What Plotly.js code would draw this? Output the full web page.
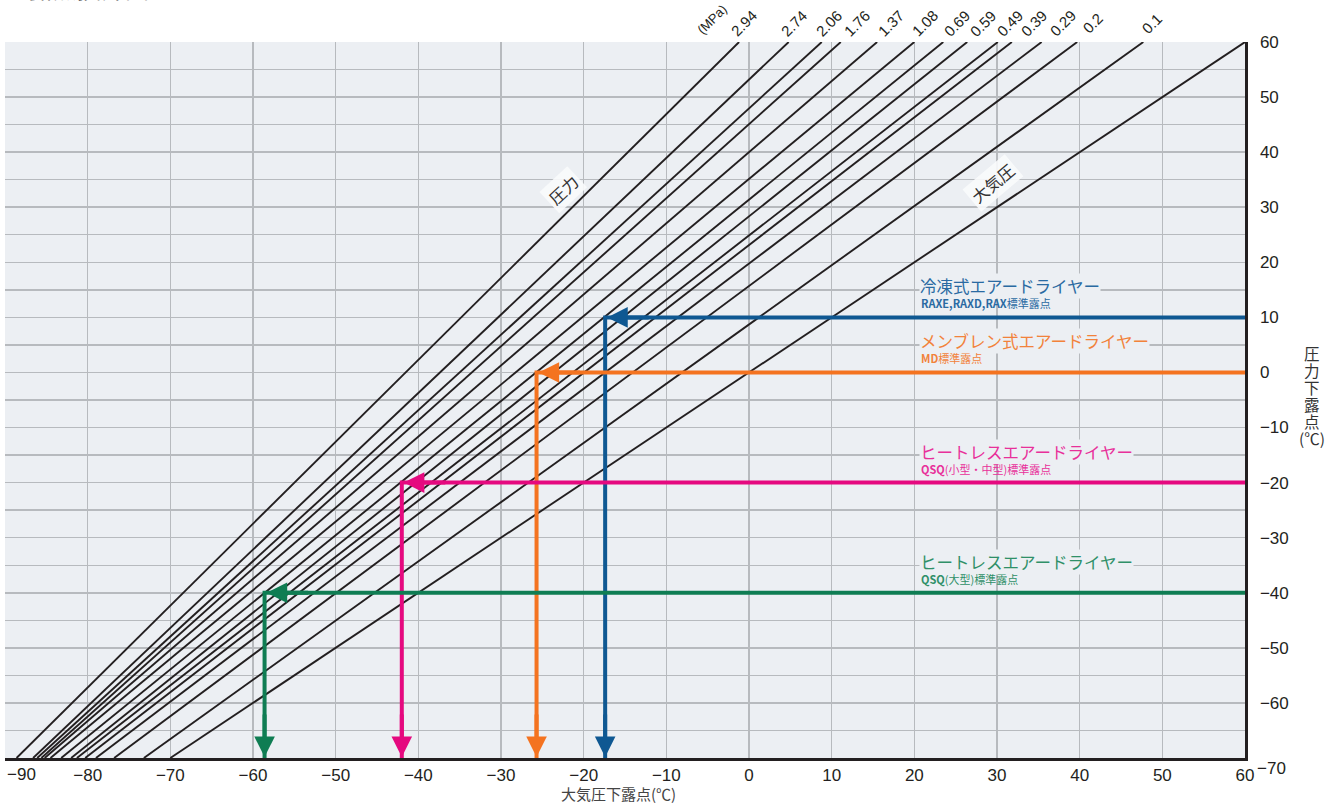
<!DOCTYPE html>
<html>
<head>
<meta charset="utf-8">
<script src="https://cdn.plot.ly/plotly-3.0.1.min.js"></script>
<style>
html,body{margin:0;padding:0;background:#ffffff;}
#chart{width:1339px;height:803px;}
</style>
</head>
<body>
<div id="chart"></div>
<script>
// ---- data ----
const pressureLabels = ['2.94','2.74','2.06','1.76','1.37','1.08','0.69','0.59','0.49','0.39','0.29','0.2','0.1'];
// atmospheric dew point where each pressure line meets pressure dew point 60 / -70
const atmDewAtTop    = [-1.2, 4.8, 8.8, 11.1, 15.5, 20.0, 23.5, 26.4, 30.1, 31.8, 35.4, 39.7, 47.7];
const atmDewAtBottom = [-88.6, -86.6, -86.1, -85.6, -85.2, -84.5, -83.2, -82.0, -81.3, -80.3, -79.0, -76.8, -73.2];
// where each pressure label sits along the top edge (atmospheric dew point)
const pressureLabelX = [-0.7, 5.4, 9.6, 13.0, 17.1, 21.2, 25.1, 28.3, 31.5, 34.4, 37.9, 41.5, 48.7];
const pressureUnit = '(MPa)';
const pressureUnitX = -4.5;
const pressureDewTop = 60;
const pressureDewBottom = -70;
// atmospheric-pressure line
const atmLineX = [-70, 60];
const atmLineY = [-70, 60];

const dryerNames  = ['冷凍式エアードライヤー','メンブレン式エアードライヤー','ヒートレスエアードライヤー','ヒートレスエアードライヤー'];
const dryerModels = ['RAXE,RAXD,RAX','MD','QSQ','QSQ'];
const dryerNotes  = ['標準露点','標準露点','(小型・中型)標準露点','(大型)標準露点'];
const dryerPressureDew = [10, 0, -20, -40];
const dryerAtmDew      = [-17.4, -25.7, -42.0, -58.6];
const dryerLineColors  = ['#0f5892','#f47320','#e5097f','#0f7d53'];
const dryerTextColors  = ['#2a6aa2','#f2823a','#e8309a','#2f9068'];

const xTickVals = [-90,-80,-70,-60,-50,-40,-30,-20,-10,0,10,20,30,40,50,60];
const yTickVals = [-70,-60,-50,-40,-30,-20,-10,0,10,20,30,40,50,60];

const chartTitle = '露点換算図';
const xTitle = '大気圧下露点(℃)';
const yTitleChars = ['圧','力','下','露','点','(℃)'];
const familyLabels = ['圧力','大気圧'];
const familyLabelX = [-22.5, 29.5];
const familyLabelY = [33.1, 34.4];

// ---- styles ----
const PLOT_BG = '#eceff3';
const GRID = '#b7babe';
const INK = '#231f20';
const LATIN = 'Liberation Sans, Arial, sans-serif';
const CJK = 'Noto Sans CJK JP, Noto Sans, sans-serif';
const fmt = v => (v < 0 ? '\u2212' + Math.abs(v) : String(v));

const traces = [];
pressureLabels.forEach((p, i) => {
  traces.push({
    type: 'scatter', mode: 'lines', hoverinfo: 'skip',
    x: [atmDewAtBottom[i], atmDewAtTop[i]],
    y: [pressureDewBottom, pressureDewTop],
    line: {color: INK, width: 1.9}
  });
});
traces.push({
  type: 'scatter', mode: 'lines', hoverinfo: 'skip',
  x: atmLineX, y: atmLineY, line: {color: INK, width: 1.9}
});
dryerNames.forEach((n, i) => {
  traces.push({
    type: 'scatter', mode: 'lines', hoverinfo: 'skip',
    x: [60, dryerAtmDew[i], dryerAtmDew[i]],
    y: [dryerPressureDew[i], dryerPressureDew[i], pressureDewBottom],
    line: {color: dryerLineColors[i], width: 4}
  });
});

const ann = [];
// pressure labels at top
pressureLabels.forEach((p, i) => {
  ann.push({
    x: pressureLabelX[i], y: pressureDewTop, xref: 'x', yref: 'y',
    text: p, showarrow: false, textangle: -45,
    xanchor: 'center', yanchor: 'middle', yshift: 19,
    font: {family: LATIN, size: 15, color: INK}
  });
});
ann.push({
  x: pressureUnitX, y: pressureDewTop, xref: 'x', yref: 'y',
  text: pressureUnit, showarrow: false, textangle: -45,
  xanchor: 'center', yanchor: 'middle', yshift: 23,
  font: {family: LATIN, size: 13, color: INK}
});
// line-family labels
familyLabels.forEach((t, i) => {
  ann.push({
    x: familyLabelX[i], y: familyLabelY[i], xref: 'x', yref: 'y', text: t, showarrow: false,
    textangle: i === 0 ? -43 : -40, font: {family: CJK, size: 16.5, color: '#333'},
    bgcolor: 'rgba(250,251,252,0.9)', borderpad: 2
  });
});
// dryer labels and arrows
dryerNames.forEach((n, i) => {
  ann.push({
    x: 20.6, y: dryerPressureDew[i], xref: 'x', yref: 'y', text: n, showarrow: false,
    xanchor: 'left', yanchor: 'middle', yshift: 31,
    font: {family: CJK, size: 16.5, color: dryerTextColors[i]},
    bgcolor: PLOT_BG, borderpad: 0
  });
  ann.push({
    x: 20.6, y: dryerPressureDew[i], xref: 'x', yref: 'y',
    text: '<b>' + dryerModels[i] + '</b>' + dryerNotes[i], showarrow: false,
    xanchor: 'left', yanchor: 'middle', yshift: 14,
    font: {family: CJK, size: 11, color: dryerTextColors[i]}
  });
  ann.push({
    x: dryerAtmDew[i], y: dryerPressureDew[i], xref: 'x', yref: 'y', text: '',
    showarrow: true, ax: 45, ay: 0, arrowhead: 2, arrowsize: 1.03, arrowwidth: 4,
    arrowcolor: dryerLineColors[i], standoff: 2
  });
  ann.push({
    x: dryerAtmDew[i], y: pressureDewBottom, xref: 'x', yref: 'y', text: '',
    showarrow: true, ax: 0, ay: -45, arrowhead: 2, arrowsize: 1.03, arrowwidth: 4,
    arrowcolor: dryerLineColors[i], standoff: 1
  });
});
// first x tick label (kept inside the page) and last y tick label (nudged down)
ann.push({
  x: xTickVals[0], y: 0, xref: 'x', yref: 'paper', text: fmt(xTickVals[0]), showarrow: false,
  xanchor: 'left', yanchor: 'top', yshift: -5,
  font: {family: LATIN, size: 17, color: INK}
});
ann.push({
  x: 1, y: yTickVals[0], xref: 'paper', yref: 'y', text: fmt(yTickVals[0]), showarrow: false,
  xanchor: 'left', yanchor: 'middle', xshift: 10, yshift: -10,
  font: {family: LATIN, size: 17, color: INK}
});
// axis titles
ann.push({
  x: 0.495, y: -0.05, xref: 'paper', yref: 'paper', text: xTitle, showarrow: false,
  xanchor: 'center', yanchor: 'middle', font: {family: CJK, size: 15, color: '#444'}
});
yTitleChars.forEach((c, i) => {
  ann.push({
    x: 1, y: 0, xref: 'paper', yref: 'y', text: c, showarrow: false,
    xanchor: 'center', yanchor: 'middle', xshift: 67, yshift: 19 - i * 16.9,
    font: {family: CJK, size: 15.5, color: '#333'}
  });
});
// cropped heading at top-left
ann.push({
  x: 0, y: 1, xref: 'paper', yref: 'paper', xanchor: 'left', yanchor: 'bottom',
  yshift: 35, xshift: -2,
  text: '<span style="color:#1e7ccc">■</span>' + chartTitle, showarrow: false,
  font: {family: CJK, size: 24, color: '#333'}
});

const layout = {
  width: 1339, height: 803,
  margin: {l: 5, r: 94, t: 42, b: 45, pad: 0},
  paper_bgcolor: '#ffffff', plot_bgcolor: PLOT_BG,
  showlegend: false,
  xaxis: {
    range: [-90, 60], tickmode: 'array',
    tickvals: xTickVals.slice(1), ticktext: xTickVals.slice(1).map(fmt),
    showgrid: true, gridcolor: GRID, gridwidth: 1.5, zeroline: false,
    showline: true, linecolor: INK, linewidth: 2.5, ticks: '',
    tickfont: {family: LATIN, size: 17, color: INK},
    automargin: false, fixedrange: true
  },
  yaxis: {
    range: [-70, 60], side: 'right', tickmode: 'array',
    tickvals: yTickVals.slice(1), ticktext: yTickVals.slice(1).map(fmt),
    showgrid: true, gridcolor: GRID, gridwidth: 1.5, zeroline: false,
    minor: {tickmode: 'linear', tick0: 0, dtick: 5, showgrid: true, gridcolor: GRID, gridwidth: 1.3},
    showline: true, linecolor: INK, linewidth: 2.5, ticks: '', ticklabelstandoff: 9,
    tickfont: {family: LATIN, size: 17, color: INK},
    automargin: false, fixedrange: true
  },
  annotations: ann
};

Plotly.newPlot('chart', traces, layout, {staticPlot: true, displayModeBar: false});
</script>
</body>
</html>
